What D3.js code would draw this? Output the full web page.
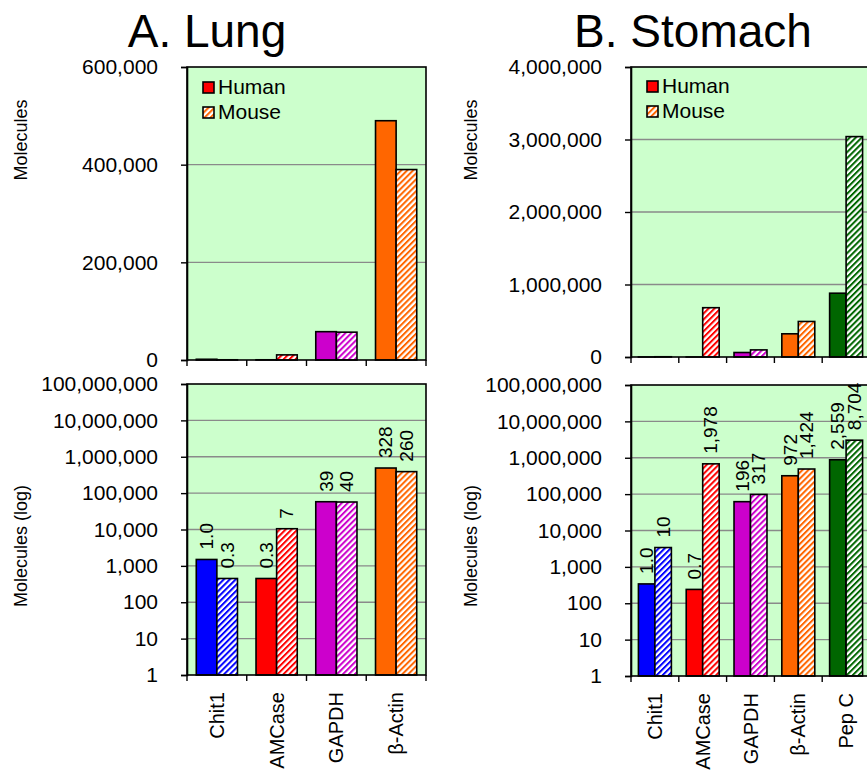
<!DOCTYPE html>
<html><head><meta charset="utf-8">
<script src="https://cdn.jsdelivr.net/npm/d3@7"></script>
<style>body{margin:0;background:#fff}svg{display:block;font-family:"Liberation Sans",Arial,sans-serif}</style>
</head><body>
<svg id="c" width="867" height="777"></svg>
<script>
// ---- data ----
const lungCategories = ["Chit1", "AMCase", "GAPDH", "β-Actin"];
const lungHuman = [1500, 450, 58000, 490000];
const lungMouse = [450, 10500, 57000, 390000];
const lungHumanLabels = ["1.0", "0.3", "39", "328"];
const lungMouseLabels = ["0.3", "7", "40", "260"];

const stomachCategories = ["Chit1", "AMCase", "GAPDH", "β-Actin", "Pep C"];
const stomachHuman = [340, 240, 62000, 320000, 880000];
const stomachMouse = [3400, 680000, 98000, 490000, 3040000];
const stomachHumanLabels = ["1.0", "0.7", "196", "972", "2,559"];
const stomachMouseLabels = ["10", "1,978", "317", "1,424", "8,704"];

const lungLinearTicks = [0, 200000, 400000, 600000];
const stomachLinearTicks = [0, 1000000, 2000000, 3000000, 4000000];
const logTicks = [1, 10, 100, 1000, 10000, 100000, 1000000, 10000000, 100000000];
const geneColors = {"Chit1": "#0000FF", "AMCase": "#FF0000", "GAPDH": "#CC00CC", "β-Actin": "#FF6600", "Pep C": "#006600"};
const seriesNames = ["Human", "Mouse"];

// ---- drawing ----
const FONT = "'Liberation Sans', Arial, sans-serif";
const svg = d3.select("#c");
const defs = svg.append("defs");
Object.entries(geneColors).forEach(([k, col], i) => {
  const p = defs.append("pattern").attr("id", "hatch" + i)
    .attr("patternUnits", "userSpaceOnUse").attr("width", 4.2).attr("height", 4.2)
    .attr("patternTransform", "rotate(45)");
  p.append("rect").attr("width", 4.2).attr("height", 4.2).attr("fill", "#fff");
  p.append("rect").attr("x", 0).attr("width", 2).attr("height", 4.2).attr("fill", col);
});
const hatchId = name => "url(#hatch" + Object.keys(geneColors).indexOf(name) + ")";
const fmt = d3.format(",");

function txt(sel, size) {
  return sel.style("font-size", size + "px").style("font-family", FONT).attr("fill", "#000");
}

function drawPanel(cfg) {
  const x = d3.scaleBand().domain(cfg.categories).range([cfg.x0, cfg.x1]).padding(0);
  const sub = d3.scaleBand().domain(seriesNames).range([0, x.bandwidth()]).paddingInner(0).paddingOuter(0.45);

  // title
  txt(svg.append("text").attr("x", cfg.titleX).attr("y", 47)
    .attr("text-anchor", "middle").text(cfg.title), 46);

  function chart(yScale, ticks, top, bottom, hum, mou, isLog, ylabel, ylabelY) {
    const g = svg.append("g");
    g.append("rect").attr("x", cfg.x0).attr("y", top).attr("width", cfg.x1 - cfg.x0)
      .attr("height", bottom - top).attr("fill", "#CCFFCC");
    // grid
    g.selectAll(".grid").data(ticks.slice(1, -1)).join("line")
      .attr("x1", cfg.x0).attr("x2", cfg.x1)
      .attr("y1", d => yScale(d)).attr("y2", d => yScale(d))
      .attr("stroke", "#8a8a8a").attr("stroke-width", 1.3);
    // bars
    const rows = cfg.categories.map((c, i) => ({c, i}));
    [hum, mou].forEach((vals, si) => {
      g.selectAll(null).data(rows).join("rect")
        .attr("x", d => x(d.c) + sub(seriesNames[si]))
        .attr("width", sub.bandwidth())
        .attr("y", d => yScale(vals[d.i]))
        .attr("height", d => bottom - yScale(vals[d.i]))
        .attr("fill", d => si === 0 ? geneColors[d.c] : hatchId(d.c))
        .attr("stroke", "#000").attr("stroke-width", 1.6);
      if (isLog) {
        const labs = si === 0 ? cfg.humanLabels : cfg.mouseLabels;
        txt(g.selectAll(null).data(rows).join("text")
          .attr("transform", d => {
            const cx = x(d.c) + sub(seriesNames[si]) + sub.bandwidth() / 2 + 6.5;
            const cy = yScale(vals[d.i]) - 10;
            return `translate(${cx},${cy}) rotate(-90)`;
          })
          .text(d => labs[d.i]), 19);
      }
    });
    // frame
    g.append("rect").attr("x", cfg.x0).attr("y", top).attr("width", cfg.x1 - cfg.x0)
      .attr("height", bottom - top).attr("fill", "none").attr("stroke", "#000").attr("stroke-width", 1.6);
    // y axis
    const ya = d3.axisLeft(yScale).tickValues(ticks).tickSize(6).tickPadding(23).tickFormat(fmt);
    const ag = g.append("g").attr("transform", `translate(${cfg.x0},0)`).call(ya);
    ag.select(".domain").attr("stroke", "#000").attr("stroke-width", 1.6);
    ag.selectAll(".tick line").attr("stroke", "#000").attr("stroke-width", 1.4);
    txt(ag.selectAll(".tick text"), 21);
    // x axis ticks
    const xa = d3.axisBottom(x).tickSize(0).tickFormat("");
    const xg = g.append("g").attr("transform", `translate(0,${bottom})`).call(xa);
    xg.select(".domain").remove();
    xg.selectAll(null).data(cfg.categories.slice(1).map(c => x(c)).concat([cfg.x0, cfg.x1])).join("line")
      .attr("x1", d => d).attr("x2", d => d).attr("y1", 0).attr("y2", 6)
      .attr("stroke", "#000").attr("stroke-width", 1.4);
    // y label
    txt(svg.append("text").attr("transform", `translate(${cfg.ylabelX},${ylabelY}) rotate(-90)`)
      .attr("text-anchor", "middle").text(ylabel), 18);
    return g;
  }

  const yLin = d3.scaleLinear().domain([0, cfg.linTicks[cfg.linTicks.length - 1]]).range([cfg.linBottom, 67]);
  chart(yLin, cfg.linTicks, 67, cfg.linBottom, cfg.human, cfg.mouse, false, "Molecules", 140);
  const yLog = d3.scaleLog().domain([1, 1e8]).range([cfg.logBottom, cfg.logTop]);
  chart(yLog, logTicks, cfg.logTop, cfg.logBottom, cfg.human, cfg.mouse, true, "Molecules (log)", 546);

  // category labels
  txt(svg.selectAll(null).data(cfg.categories).join("text")
    .attr("transform", c => `translate(${x(c) + x.bandwidth() / 2 + 7},${cfg.logBottom + 17}) rotate(-90)`)
    .attr("text-anchor", "end").text(c => c), 20);

  // legend
  const leg = svg.append("g");
  const ly = [cfg.legY, cfg.legY + 25];
  leg.append("rect").attr("x", cfg.legX).attr("y", ly[0]).attr("width", 11).attr("height", 11)
    .attr("fill", geneColors["AMCase"]).attr("stroke", "#000").attr("stroke-width", 1.6);
  leg.append("rect").attr("x", cfg.legX).attr("y", ly[1]).attr("width", 11).attr("height", 11)
    .attr("fill", hatchId("β-Actin")).attr("stroke", "#000").attr("stroke-width", 1.6);
  seriesNames.forEach((s, i) => {
    txt(leg.append("text").attr("x", cfg.legX + 15).attr("y", ly[i] + 12).text(s), 21);
  });
}

drawPanel({
  title: "A. Lung", titleX: 207, x0: 187, x1: 426,
  categories: lungCategories, human: lungHuman, mouse: lungMouse,
  humanLabels: lungHumanLabels, mouseLabels: lungMouseLabels,
  linTicks: lungLinearTicks, linBottom: 360, logTop: 384, logBottom: 675,
  ylabelX: 27, legX: 203, legY: 82
});
drawPanel({
  title: "B. Stomach", titleX: 693, x0: 631, x1: 870,
  categories: stomachCategories, human: stomachHuman, mouse: stomachMouse,
  humanLabels: stomachHumanLabels, mouseLabels: stomachMouseLabels,
  linTicks: stomachLinearTicks, linBottom: 357, logTop: 385, logBottom: 676,
  ylabelX: 477, legX: 647, legY: 81
});
</script>
</body></html>
